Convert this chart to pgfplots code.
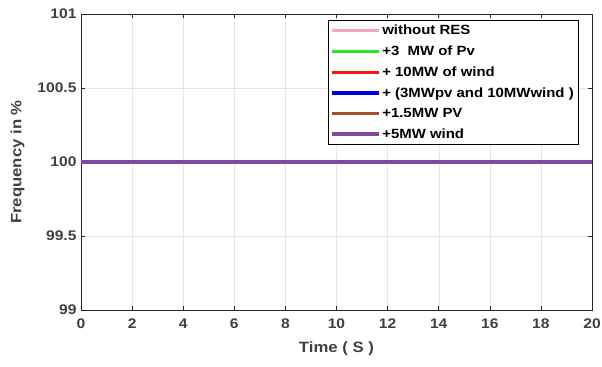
\documentclass[border=0pt]{standalone}
\usepackage{pgfplots}
\pgfplotsset{compat=1.18}
\usepackage{fontspec}
\setmainfont{Liberation Sans}[FakeStretch=1.12]
\definecolor{tickgray}{RGB}{64,64,64}
\definecolor{axgray}{RGB}{38,38,38}
\definecolor{c1}{RGB}{242,164,200}
\definecolor{c2}{RGB}{40,230,40}
\definecolor{c3}{RGB}{250,20,20}
\definecolor{c4}{RGB}{0,0,220}
\definecolor{c5}{RGB}{160,82,45}
\definecolor{c6}{RGB}{128,72,158}
\begin{document}
\begin{tikzpicture}
\useasboundingbox (-81bp,-57bp) rectangle (521bp,310bp);
\begin{axis}[
  at={(0,0)}, anchor=south west,
  scale only axis, width=511bp, height=296bp,
  xmin=0, xmax=20, ymin=99, ymax=101,
  xtick={0,2,...,20}, ytick={99,99.5,100,100.5,101},
  yticklabels={99,99.5,100,100.5,101},
  /pgf/number format/assume math mode=true,
  tick label style={font=\fontsize{14}{16}\selectfont\bfseries, text=tickgray},
  xticklabel style={yshift=-5bp},
  yticklabel style={xshift=-1bp},
  label style={font=\fontsize{15}{17}\selectfont\bfseries, text=tickgray},
  xlabel={Time ( S )}, ylabel={Frequency in \%},
  xlabel style={yshift=-6bp},
  ylabel style={yshift=6bp},
  grid=major, major grid style={draw=black!10, line width=0.4pt},
  axis line style={draw=axgray, line width=0.6pt},
  tick style={draw=axgray, line width=0.5pt},
  major tick length=4bp,
  tick align=inside,
  legend style={at={(0.9726,0.98)}, anchor=north east, draw=black, line width=0.5pt,
    font=\fontsize{13.4}{15}\selectfont\bfseries, text=black,
    row sep=5.6bp, inner xsep=2bp, inner ysep=3bp},
  legend cell align=left,
  legend image code/.code={\draw[#1, line width=3.5pt] (0bp,0bp) -- (47bp,0bp);},
]
\addplot[c1, line width=3.5pt] coordinates {(0,100) (20,100)};
\addlegendentry{without RES}
\addplot[c2, line width=3.5pt] coordinates {(0,100) (20,100)};
\addlegendentry{+3\ \ MW of Pv}
\addplot[c3, line width=3.5pt] coordinates {(0,100) (20,100)};
\addlegendentry{+ 10MW of wind}
\addplot[c4, line width=3.5pt] coordinates {(0,100) (20,100)};
\addlegendentry{+ (3MWpv and 10MWwind )}
\addplot[c5, line width=3.5pt] coordinates {(0,100) (20,100)};
\addlegendentry{+1.5MW PV}
\addplot[c6, line width=3.5pt] coordinates {(0,100) (20,100)};
\addlegendentry{+5MW wind}
\end{axis}
\end{tikzpicture}
\end{document}
